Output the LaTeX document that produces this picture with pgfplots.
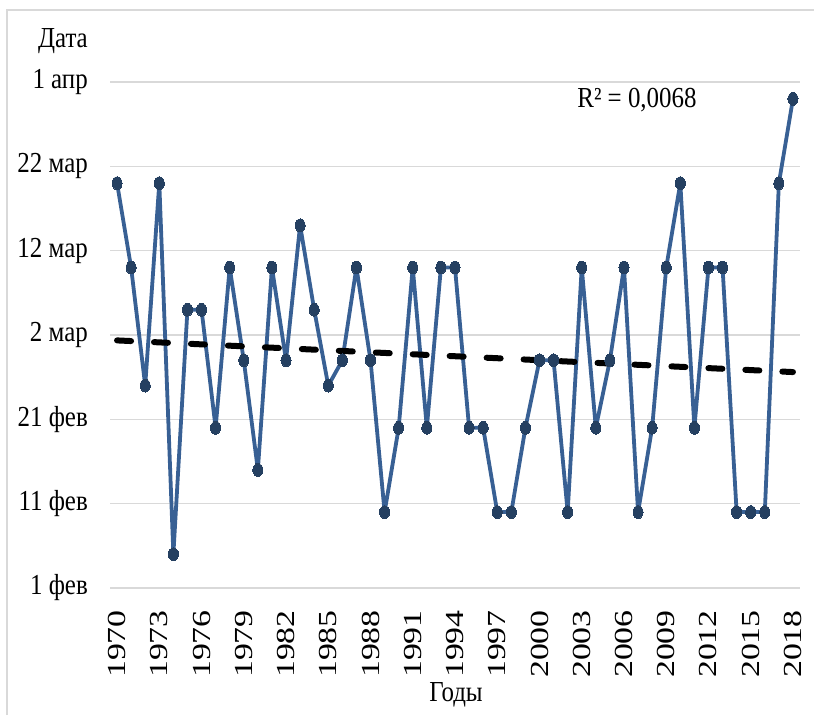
\documentclass[border=0pt]{standalone}
\usepackage{fontspec}
\setmainfont{Liberation Serif}
\newfontfamily\labfont[FakeStretch=0.86]{Liberation Serif}
\newfontfamily\yearfont[FakeStretch=1.3]{Liberation Serif}
\usepackage{pgfplots}
\usepackage{pgfplotstable}
\pgfplotsset{compat=1.18}

\definecolor{serline}{RGB}{56,96,148}
\definecolor{sermark}{RGB}{37,64,97}
\definecolor{gridgray}{RGB}{217,217,217}

% Date of the event, counted in days from 1 February
\pgfplotstableread{
year d
1970 48
1971 38
1972 24
1973 48
1974 4
1975 33
1976 33
1977 19
1978 38
1979 27
1980 14
1981 38
1982 27
1983 43
1984 33
1985 24
1986 27
1987 38
1988 27
1989 9
1990 19
1991 38
1992 19
1993 38
1994 38
1995 19
1996 19
1997 9
1998 9
1999 19
2000 27
2001 27
2002 9
2003 38
2004 19
2005 27
2006 38
2007 9
2008 19
2009 38
2010 48
2011 19
2012 38
2013 38
2014 9
2015 9
2016 9
2017 48
2018 58
}\datatable

\begin{document}
\begin{tikzpicture}[x=1pt,y=1pt]
\useasboundingbox (0,0) rectangle (814,715);
% outer frame (left and top edges)
\draw[gridgray, line width=1.5pt] (7,0) -- (7,705) -- (814,705);

\begin{axis}[
  at={(110pt,127pt)}, anchor=south west,
  scale only axis, width=690pt, height=506pt,
  xmin=1969.5, xmax=2018.5,
  ymin=0, ymax=60,
  clip=false,
  axis line style={draw=none},
  tick style={draw=none},
  ymajorgrids,
  grid style={gridgray, line width=1.5pt},
  ytick={0,10,20,30,40,50,60},
  yticklabels={1 фев,11 фев,21 фев,2 мар,12 мар,22 мар,1 апр},
  yticklabel style={anchor=east, inner sep=0pt, xshift=-22pt,
    font=\labfont\fontsize{29}{32}\selectfont},
  xtick={1970,1973,...,2018},
  xticklabels={1970,1973,1976,1979,1982,1985,1988,1991,1994,1997,2000,2003,2006,2009,2012,2015,2018},
  xticklabel style={rotate=90, anchor=east, inner sep=0pt, xshift=-22pt,
    font=\yearfont\fontsize{26}{29}\selectfont},
]
\addplot[serline, line width=3.8pt, line join=round,
  mark=*, mark size=5.6pt,
  mark options={sermark, fill=sermark, line width=0pt, xscale=0.9, yscale=1.15}]
  table[x=year, y=d] {\datatable};
\addplot[black, line width=6pt, line cap=round, dash pattern=on 14pt off 23pt]
  table[x=year, y={create col/linear regression={y=d}}] {\datatable};
\end{axis}

\node[anchor=east, inner sep=0pt, font=\labfont\fontsize{29}{32}\selectfont]
  at (88,674) {Дата};
\node[inner sep=0pt, font=\labfont\fontsize{29}{32}\selectfont]
  at (456,20) {Годы};
\node[inner sep=0pt, font=\labfont\fontsize{29}{32}\selectfont]
  at (637,615) {R² = 0,0068};
\end{tikzpicture}
\end{document}
